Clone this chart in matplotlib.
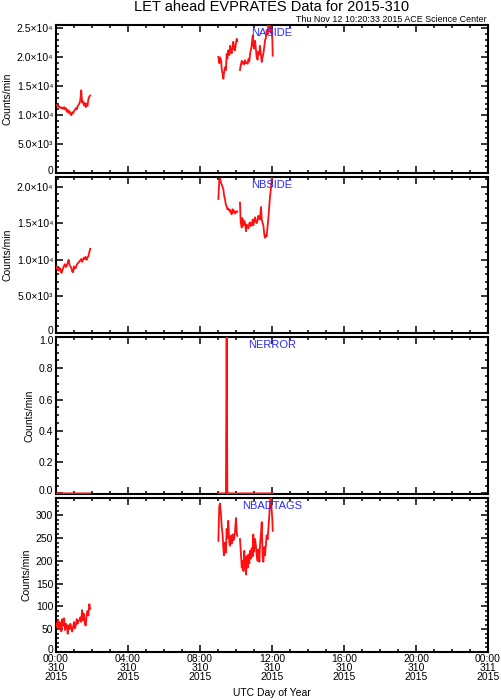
import numpy as np
import matplotlib
matplotlib.use("Agg")
import matplotlib.pyplot as plt
import matplotlib.transforms as mtransforms
from matplotlib.ticker import MultipleLocator, FixedLocator

plt.rcParams['font.family'] = ['Liberation Sans', 'DejaVu Sans']

# ---- data (hours of day 2015-310) ----
T1 = [0.00, 0.05, 0.10, 0.15, 0.20, 0.25, 0.30, 0.35, 0.40, 0.45,
      0.50, 0.55, 0.60, 0.65, 0.70, 0.75, 0.80, 0.85, 0.90, 0.95,
      1.00, 1.05, 1.10, 1.15, 1.20, 1.25, 1.30, 1.35, 1.40, 1.45,
      1.50, 1.55, 1.60, 1.65, 1.70, 1.75, 1.80, 1.85, 1.90]
T2a = [9.02, 9.07, 9.11, 9.17, 9.20, 9.26, 9.30, 9.33, 9.39, 9.44, 9.48, 9.52,
       9.57, 9.63, 9.67, 9.72, 9.76, 9.81, 9.85, 9.89, 9.94, 10.00, 10.04, 10.07]
T2b = [10.22, 10.26, 10.32, 10.35, 10.41, 10.46, 10.50, 10.56, 10.59, 10.65,
       10.69, 10.74, 10.78, 10.82, 10.87, 10.93, 10.96, 11.00, 11.06, 11.11,
       11.15, 11.20, 11.24, 11.30, 11.33, 11.39, 11.43, 11.48, 11.52, 11.57,
       11.61, 11.67, 11.70, 11.76, 11.80, 11.85, 11.89, 11.94, 11.98, 12.02, 12.04]

naside_1 = [11800, 11700, 11500, 11600, 11300, 11400, 11200, 11300, 11100, 11400,
            11000, 11200, 10600, 10900, 10400, 10700, 10200, 10000, 10500, 10300,
            10700, 10900, 11200, 11000, 11500, 11800, 12000, 12600, 14300, 12200,
            12400, 11700, 12100, 11400, 12000, 11600, 12800, 13200, 13400]
naside_2a = [20100, 19000, 20000, 19500, 18200, 17000, 16300, 17200, 18300, 17800, 20600, 19800,
             21200, 20400, 22000, 21000, 20700, 22000, 22700, 21500, 21200, 22500, 23200, 22800]
naside_2b = [17800, 18600, 19400, 18900, 19200, 18800, 19500, 19000, 19100, 18900,
             19700, 19300, 20600, 21200, 22000, 23800, 22300, 21500, 22900, 21300,
             20000, 19600, 21000, 20500, 22000, 20400, 19200, 20100, 20600, 21800,
             22900, 23500, 24700, 24000, 25600, 24800, 25400, 24200, 24700, 23000, 20300]

nbside_1 = [8900, 9100, 8600, 8500, 8900, 8700, 8200, 8500, 8900, 9200,
            9400, 9000, 9200, 9600, 10000, 9300, 9100, 8900, 8400, 8300,
            9100, 8800, 8900, 9300, 9500, 9600, 9800, 9900, 10100, 9700,
            10000, 10300, 10100, 10400, 10000, 10300, 10500, 11000, 11500]
nbside_2a = [18300, 20800, 21100, 20500, 20300, 19900, 19600, 18900, 18200, 17500, 17300, 16900,
             17000, 16700, 16800, 16400, 16200, 16900, 16500, 16700, 16300, 16600, 16500, 16600]
nbside_2b = [17800, 15100, 14400, 15700, 14700, 15300, 15000, 13900, 14800, 14500,
             14300, 15000, 15100, 14600, 14800, 15500, 14700, 15100, 15800, 15200,
             15000, 15400, 16000, 15600, 15500, 17200, 15500, 15000, 14700, 13500,
             13000, 13400, 13200, 14700, 15800, 17400, 18600, 19700, 21000, 22000, 22500]

nerror_1 = [0] * 39
nerror_2a = [0, 0, 0, 0, 0, 0, 0, 0, 0, 0, 1, 0,
             0, 0, 0, 0, 0, 0, 0, 0, 0, 0, 0, 0]
nerror_2b = [0] * 41

nbadtags_1 = [62, 55, 70, 50, 66, 52, 45, 72, 58, 74,
              48, 62, 60, 40, 58, 50, 62, 52, 45, 55,
              66, 52, 58, 72, 62, 68, 70, 76, 66, 92,
              70, 84, 62, 58, 80, 90, 80, 105, 95]
nbadtags_2a = [244, 320, 326, 300, 278, 255, 225, 212, 240, 218, 270, 250,
               288, 240, 233, 255, 238, 258, 245, 248, 262, 294, 262, 255]
nbadtags_2b = [248, 225, 185, 200, 178, 222, 190, 170, 210, 185,
               214, 195, 222, 205, 228, 210, 258, 220, 248, 232,
               212, 200, 225, 198, 232, 262, 285, 207, 198, 230,
               212, 240, 256, 248, 272, 300, 330, 340, 312, 290, 266]

names = ['NASIDE', 'NBSIDE', 'NERROR', 'NBADTAGS']
ylims = [(0, 25600), (0, 21300), (-0.004, 1.0), (0, 338)]
ymajor = [[0, 5000, 10000, 15000, 20000, 25000],
          [0, 5000, 10000, 15000, 20000],
          [0.0, 0.2, 0.4, 0.6, 0.8, 1.0],
          [0, 50, 100, 150, 200, 250, 300]]
ylabels = [['0', '5.0×10³', '1.0×10⁴', '1.5×10⁴', '2.0×10⁴', '2.5×10⁴'],
           ['0', '5.0×10³', '1.0×10⁴', '1.5×10⁴', '2.0×10⁴'],
           ['0.0', '0.2', '0.4', '0.6', '0.8', '1.0'],
           ['0', '50', '100', '150', '200', '250', '300']]
yminor = [1000, 1000, 0.05, 10]
xticks = [0, 4, 8, 12, 16, 20, 24]
xticklabels = ['00:00\n310\n2015', '04:00\n310\n2015', '08:00\n310\n2015',
               '12:00\n310\n2015', '16:00\n310\n2015', '20:00\n310\n2015',
               '00:00\n311\n2015']

series = [(naside_1, naside_2a, naside_2b),
          (nbside_1, nbside_2a, nbside_2b),
          (nerror_1, nerror_2a, nerror_2b),
          (nbadtags_1, nbadtags_2a, nbadtags_2b)]

t_all = np.concatenate([T1, [np.nan], T2a, [np.nan], T2b])

W, H = 501, 700
fig = plt.figure(figsize=(W / 100, H / 100), dpi=100)
panels_px = [(25, 173), (177, 333), (337, 494), (498, 652)]
left, right = 56, 488

for i, (top, bot) in enumerate(panels_px):
    ax = fig.add_axes([left / W, (H - bot) / H, (right - left) / W, (bot - top) / H])
    s1, s2a, s2b = series[i]
    y_all = np.concatenate([s1, [np.nan], s2a, [np.nan], s2b]).astype(float)
    ax.plot(t_all, y_all, color='#ff1010', lw=1.3, zorder=3)
    ax.set_xlim(0, 24)
    ax.set_ylim(*ylims[i])
    ax.xaxis.set_major_locator(FixedLocator(xticks))
    ax.xaxis.set_minor_locator(MultipleLocator(1))
    ax.yaxis.set_major_locator(FixedLocator(ymajor[i]))
    ax.yaxis.set_minor_locator(MultipleLocator(yminor[i]))
    ax.set_yticklabels(ylabels[i], fontsize=7.5)
    ax.tick_params(which='both', direction='in', top=True, right=True, width=1.1, pad=2)
    ax.tick_params(which='major', length=5)
    ax.tick_params(which='minor', length=2.5)
    for sp in ax.spines.values():
        sp.set_linewidth(1.5)
    # keep end labels inside the panel, as the original does
    tl = ax.get_yticklabels()
    up = mtransforms.ScaledTranslation(0, 3.2 / 100, fig.dpi_scale_trans)
    tl[0].set_transform(tl[0].get_transform() + up)
    if i == 2:
        down = mtransforms.ScaledTranslation(0, -3.5 / 100, fig.dpi_scale_trans)
        tl[-1].set_transform(tl[-1].get_transform() + down)
    ax.set_ylabel('Counts/min', fontsize=7.5, labelpad=3)
    ax.annotate(names[i], xy=(0.5, 1), xycoords='axes fraction', xytext=(0, -6),
                textcoords='offset points', ha='center', va='center',
                color='#2a2aff', fontsize=8, zorder=5)
    if i < 3:
        ax.set_xticklabels([])
    else:
        ax.set_xticklabels(xticklabels, fontsize=7.5, linespacing=0.85)
        ax.tick_params(axis='x', pad=1.5)

fig.text(272 / W, 1 - 693 / H, 'UTC Day of Year', ha='center', va='center', fontsize=7.5)
fig.text(272 / W, 1 - 7 / H, 'LET ahead EVPRATES Data for 2015-310',
         ha='center', va='center', fontsize=10.5)
fig.text(487 / W, 1 - 20 / H, 'Thu Nov 12 10:20:33 2015 ACE Science Center',
         ha='right', va='center', fontsize=6.4)

fig.savefig('out.png', dpi=100)
